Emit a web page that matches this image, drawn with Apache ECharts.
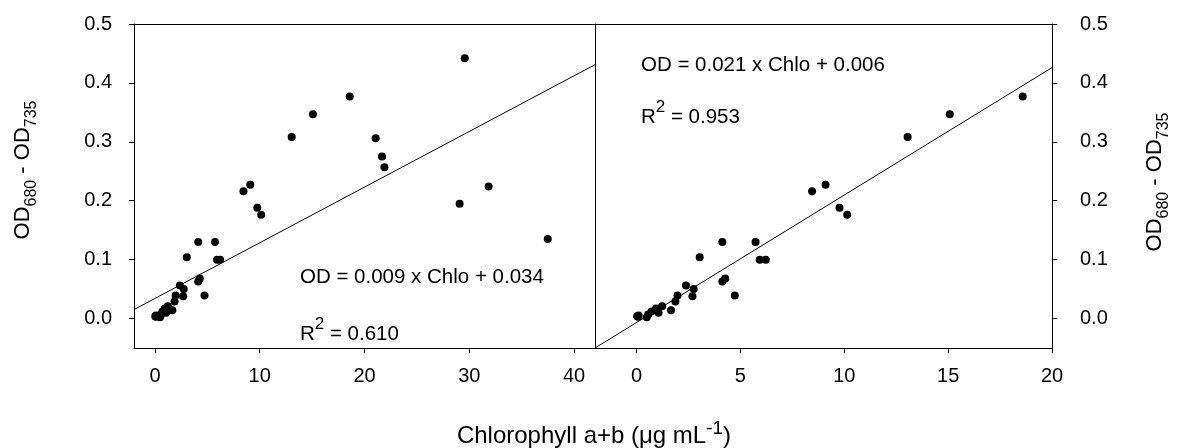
<!DOCTYPE html>
<html>
<head>
<meta charset="utf-8">
<script src="https://cdn.jsdelivr.net/npm/echarts@6/dist/echarts.min.js"></script>
<style>
  html, body { margin: 0; background: #fff; }
  #chart { width: 1178px; height: 448px; }
</style>
</head>
<body>
<div id="chart"></div>
<script>
// chlorophyll (ug/mL) and OD680 - OD735
const chlo = [0.03, 0.08, 0.10, 0.49, 0.56, 0.72, 0.94, 1.06, 1.23, 1.66, 1.87, 1.97, 2.38, 2.69, 2.75, 3.04,
  4.13, 4.27, 4.13, 4.73, 5.73, 5.93, 6.22, 8.45, 9.10, 9.77, 10.14, 13.05, 15.08, 18.59,
  21.07, 21.67, 21.90, 29.08, 29.57, 31.85, 37.49];
const od = [0.004, 0.003, 0.005, 0.002, 0.007, 0.012, 0.017, 0.010, 0.021, 0.014, 0.029, 0.039, 0.056, 0.038, 0.050, 0.104,
  0.063, 0.068, 0.130, 0.039, 0.130, 0.100, 0.100, 0.216, 0.227, 0.188, 0.176, 0.308, 0.347, 0.377,
  0.306, 0.275, 0.257, 0.195, 0.442, 0.224, 0.135];

// fitted lines, end points as drawn
const leftFitX = [-2, 42];
const leftFitY = [0.0152, 0.431];
const rightFitX = [-2, 20];
const rightFitY = [-0.05, 0.426];

const leftXTicks = [0, 10, 20, 30, 40];
const rightXTicks = [0, 5, 10, 15, 20];
const yTicks = [0, 0.1, 0.2, 0.3, 0.4, 0.5];

const leftEq = 'OD = 0.009 x Chlo + 0.034';
const leftR2 = '0.610';
const rightEq = 'OD = 0.021 x Chlo + 0.006';
const rightR2 = '0.953';

const font = 'Liberation Sans, Arial, sans-serif';
const black = '#000';

const allPoints = chlo.map((c, i) => [c, od[i]]);
const rightPoints = allPoints.filter((p) => p[0] <= 20);

function lineOnly(gridIndex, position, min, max) {
  return {
    type: 'value',
    gridIndex,
    position,
    min,
    max,
    axisLine: { show: true, onZero: false, lineStyle: { color: black, width: 1 } },
    axisTick: { show: false },
    axisLabel: { show: false },
    splitLine: { show: false },
  };
}

function tickedAxis(gridIndex, position, min, max, ticks, margin, fmt) {
  return {
    type: 'value',
    gridIndex,
    position,
    min,
    max,
    axisLine: { show: true, onZero: false, lineStyle: { color: black, width: 1 } },
    axisTick: { show: true, inside: false, length: 5, customValues: ticks, lineStyle: { color: black } },
    axisLabel: {
      show: true,
      customValues: ticks,
      margin,
      fontSize: 20,
      fontFamily: font,
      color: black,
      formatter: fmt,
    },
    splitLine: { show: false },
  };
}

const yFmt = (v) => v.toFixed(1);
const xFmt = (v) => String(v);

const supText = (base, sup, rest, size, supSize, lift) => ({
  text: '{m|' + base + '}{s|' + sup + '}{m|' + rest + '}',
  fill: black,
  rich: {
    m: { fontSize: size, fontFamily: font, verticalAlign: 'bottom' },
    s: { fontSize: supSize, fontFamily: font, verticalAlign: 'top', padding: [0, 0, lift, 0] },
  },
});

const odTitle = {
  text: '{m|OD}{s|680}{m| - OD}{s|735}',
  align: 'center',
  verticalAlign: 'middle',
  fill: black,
  rich: {
    m: { fontSize: 22, fontFamily: font, verticalAlign: 'top' },
    s: { fontSize: 16, fontFamily: font, verticalAlign: 'bottom', padding: [12, 0, 0, 0] },
  },
};

const chart = echarts.init(document.getElementById('chart'));
chart.setOption({
  animation: false,
  backgroundColor: '#fff',
  grid: [
    { left: 134, top: 24, width: 461, height: 324 },
    { left: 595, top: 24, width: 457, height: 324 },
  ],
  xAxis: [
    tickedAxis(0, 'bottom', -2, 42, leftXTicks, 18, xFmt),
    lineOnly(0, 'top', -2, 42),
    tickedAxis(1, 'bottom', -2, 20, rightXTicks, 18, xFmt),
    lineOnly(1, 'top', -2, 20),
  ],
  yAxis: [
    tickedAxis(0, 'left', -0.05, 0.5, yTicks, 22, yFmt),
    lineOnly(0, 'right', -0.05, 0.5),
    tickedAxis(1, 'right', -0.05, 0.5, yTicks, 28, yFmt),
  ],
  series: [
    {
      type: 'scatter',
      xAxisIndex: 0,
      yAxisIndex: 0,
      data: allPoints,
      symbolSize: 8,
      itemStyle: { color: black, opacity: 1 },
    },
    {
      type: 'line',
      xAxisIndex: 0,
      yAxisIndex: 0,
      data: leftFitX.map((x, i) => [x, leftFitY[i]]),
      symbol: 'none',
      lineStyle: { color: black, width: 1 },
    },
    {
      type: 'scatter',
      xAxisIndex: 2,
      yAxisIndex: 2,
      data: rightPoints,
      symbolSize: 8,
      itemStyle: { color: black, opacity: 1 },
    },
    {
      type: 'line',
      xAxisIndex: 2,
      yAxisIndex: 2,
      data: rightFitX.map((x, i) => [x, rightFitY[i]]),
      symbol: 'none',
      lineStyle: { color: black, width: 1 },
    },
  ],
  graphic: [
    {
      type: 'text',
      x: 300,
      y: 267,
      style: { text: leftEq, fontSize: 20.5, fontFamily: font, fill: black },
    },
    {
      type: 'text',
      x: 300,
      y: 316,
      style: supText('R', '2', ' = ' + leftR2, 20.5, 17, 12),
    },
    {
      type: 'text',
      x: 641,
      y: 55,
      style: { text: rightEq, fontSize: 20.5, fontFamily: font, fill: black },
    },
    {
      type: 'text',
      x: 641,
      y: 99,
      style: supText('R', '2', ' = ' + rightR2, 20.5, 17, 12),
    },
    {
      type: 'text',
      x: 594,
      y: 419,
      style: Object.assign(supText('Chlorophyll a+b (μg mL', '-1', ')', 24, 19, 10), { align: 'center' }),
    },
    { type: 'text', x: 26, y: 170, rotation: Math.PI / 2, style: odTitle },
    { type: 'text', x: 1158, y: 182, rotation: Math.PI / 2, style: odTitle },
  ],
});
</script>
</body>
</html>
